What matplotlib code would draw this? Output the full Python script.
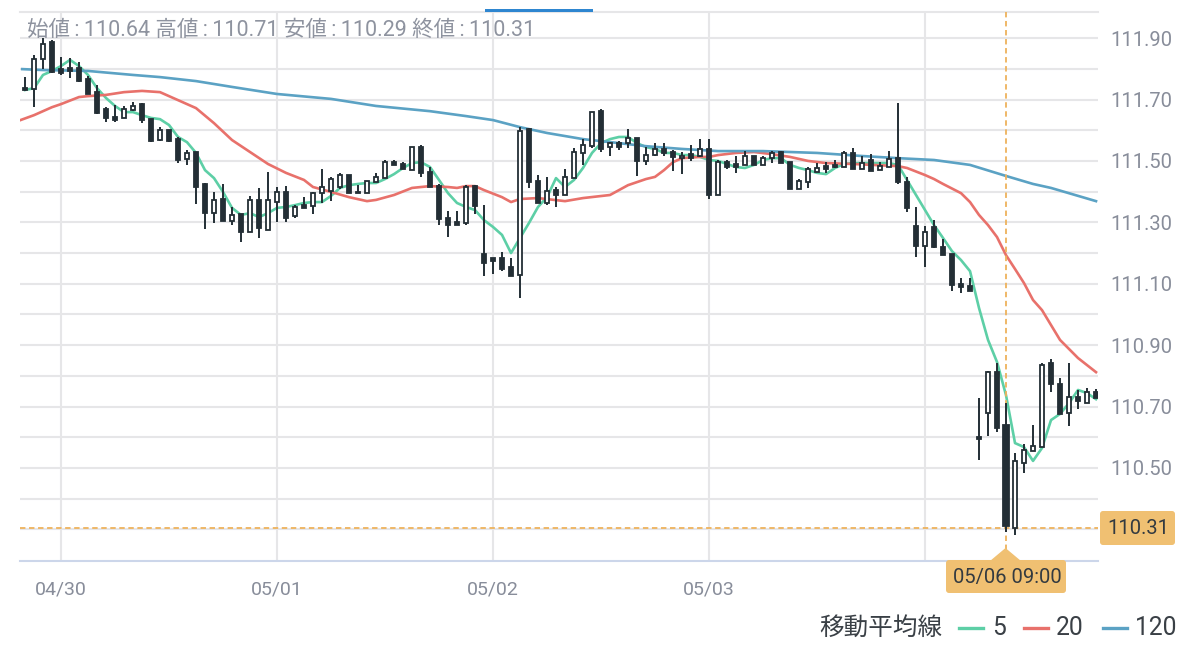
import matplotlib
matplotlib.use('Agg')
import matplotlib.pyplot as plt
from matplotlib.patches import FancyBboxPatch, Polygon, Rectangle
from matplotlib.transforms import Affine2D
from matplotlib.lines import Line2D
import numpy as np

plt.rcParams['font.family'] = ['Roboto', 'Noto Sans CJK JP', 'DejaVu Sans']

# ohlc, one row per hour
opens = [111.737, 111.734, 111.832, 111.887, 111.799, 111.802, 111.802, 111.767, 111.724, 111.669,
         111.643, 111.640, 111.666, 111.685, 111.636, 111.568, 111.601, 111.571, 111.506, 111.529,
         111.425, 111.330, 111.376, 111.304, 111.327, 111.268, 111.373, 111.275, 111.366, 111.399,
         111.320, 111.356, 111.353, 111.395, 111.402, 111.415, 111.454, 111.399, 111.395, 111.431,
         111.444, 111.496, 111.490, 111.470, 111.545, 111.464, 111.418, 111.314, 111.301, 111.298,
         111.418, 111.197, 111.184, 111.184, 111.154, 111.128, 111.604, 111.434, 111.363, 111.405,
         111.389, 111.444, 111.526, 111.548, 111.662, 111.545, 111.558, 111.558, 111.575, 111.500,
         111.519, 111.539, 111.529, 111.509, 111.522, 111.516, 111.539, 111.389, 111.496, 111.490,
         111.487, 111.516, 111.487, 111.509, 111.529, 111.496, 111.408, 111.431, 111.464, 111.483,
         111.487, 111.480, 111.526, 111.474, 111.503, 111.470, 111.480, 111.509, 111.431, 111.288,
         111.223, 111.285, 111.220, 111.197, 111.099, 111.092, 110.601, 110.679, 110.812, 110.640,
         110.304, 110.516, 110.555, 110.568, 110.842, 110.773, 110.679, 110.731, 110.711, 110.747]
highs = [111.773, 111.845, 111.900, 111.894, 111.838, 111.835, 111.822, 111.776, 111.747, 111.675,
         111.682, 111.679, 111.692, 111.689, 111.636, 111.610, 111.601, 111.578, 111.535, 111.529,
         111.428, 111.399, 111.425, 111.350, 111.327, 111.386, 111.412, 111.464, 111.415, 111.418,
         111.356, 111.382, 111.399, 111.474, 111.448, 111.461, 111.454, 111.421, 111.434, 111.461,
         111.503, 111.503, 111.496, 111.545, 111.552, 111.480, 111.425, 111.337, 111.337, 111.421,
         111.421, 111.356, 111.184, 111.203, 111.184, 111.610, 111.607, 111.454, 111.448, 111.415,
         111.474, 111.542, 111.571, 111.659, 111.669, 111.562, 111.565, 111.604, 111.575, 111.545,
         111.558, 111.558, 111.535, 111.529, 111.552, 111.571, 111.571, 111.503, 111.503, 111.516,
         111.532, 111.516, 111.516, 111.532, 111.532, 111.496, 111.441, 111.480, 111.493, 111.496,
         111.503, 111.532, 111.542, 111.516, 111.522, 111.496, 111.532, 111.689, 111.448, 111.350,
         111.288, 111.307, 111.246, 111.197, 111.119, 111.119, 110.728, 110.816, 110.842, 110.710,
         110.549, 110.578, 110.640, 110.842, 110.855, 110.793, 110.842, 110.754, 110.760, 110.757]
lows = [111.728, 111.675, 111.799, 111.786, 111.780, 111.770, 111.757, 111.718, 111.653, 111.627,
        111.627, 111.640, 111.662, 111.623, 111.561, 111.565, 111.561, 111.493, 111.487, 111.360,
        111.278, 111.298, 111.304, 111.291, 111.236, 111.268, 111.249, 111.275, 111.301, 111.301,
        111.314, 111.347, 111.327, 111.363, 111.369, 111.408, 111.395, 111.395, 111.395, 111.431,
        111.444, 111.487, 111.474, 111.470, 111.448, 111.415, 111.291, 111.252, 111.291, 111.291,
        111.327, 111.125, 111.132, 111.141, 111.125, 111.053, 111.412, 111.363, 111.356, 111.350,
        111.389, 111.444, 111.487, 111.542, 111.529, 111.516, 111.535, 111.542, 111.451, 111.487,
        111.516, 111.516, 111.467, 111.457, 111.500, 111.513, 111.376, 111.389, 111.474, 111.461,
        111.487, 111.487, 111.487, 111.493, 111.493, 111.408, 111.408, 111.412, 111.464, 111.461,
        111.477, 111.480, 111.474, 111.474, 111.467, 111.470, 111.480, 111.425, 111.333, 111.187,
        111.154, 111.216, 111.193, 111.076, 111.070, 111.076, 110.526, 110.604, 110.617, 110.290,
        110.281, 110.483, 110.555, 110.568, 110.747, 110.676, 110.637, 110.692, 110.711, 110.728]
closes = [111.731, 111.832, 111.881, 111.789, 111.786, 111.793, 111.760, 111.718, 111.656, 111.640,
          111.633, 111.669, 111.679, 111.633, 111.565, 111.601, 111.565, 111.503, 111.526, 111.415,
          111.330, 111.373, 111.304, 111.324, 111.268, 111.373, 111.281, 111.373, 111.399, 111.314,
          111.350, 111.347, 111.395, 111.415, 111.441, 111.454, 111.395, 111.395, 111.434, 111.448,
          111.496, 111.487, 111.474, 111.545, 111.461, 111.415, 111.311, 111.291, 111.291, 111.415,
          111.353, 111.167, 111.174, 111.148, 111.125, 111.597, 111.431, 111.363, 111.402, 111.389,
          111.448, 111.529, 111.552, 111.659, 111.539, 111.558, 111.545, 111.575, 111.500, 111.519,
          111.539, 111.526, 111.513, 111.516, 111.509, 111.539, 111.389, 111.496, 111.480, 111.480,
          111.516, 111.487, 111.509, 111.526, 111.493, 111.408, 111.434, 111.474, 111.477, 111.474,
          111.480, 111.526, 111.474, 111.493, 111.467, 111.483, 111.506, 111.431, 111.347, 111.223,
          111.268, 111.220, 111.193, 111.096, 111.089, 111.076, 110.594, 110.812, 110.630, 110.310,
          110.523, 110.558, 110.571, 110.835, 110.773, 110.676, 110.731, 110.718, 110.747, 110.728]

ma5 = [111.731, 111.737, 111.780, 111.793, 111.809, 111.829, 111.809, 111.780, 111.737, 111.705,
       111.679, 111.659, 111.659, 111.649, 111.640, 111.636, 111.617, 111.578, 111.561, 111.526,
       111.470, 111.444, 111.399, 111.347, 111.324, 111.330, 111.317, 111.330, 111.347, 111.350,
       111.356, 111.363, 111.366, 111.366, 111.386, 111.412, 111.421, 111.425, 111.428, 111.428,
       111.441, 111.457, 111.477, 111.493, 111.496, 111.480, 111.438, 111.395, 111.363, 111.350,
       111.340, 111.307, 111.285, 111.259, 111.200, 111.249, 111.298, 111.350, 111.382, 111.444,
       111.415, 111.438, 111.477, 111.526, 111.558, 111.571, 111.578, 111.578, 111.558, 111.545,
       111.539, 111.526, 111.526, 111.519, 111.519, 111.513, 111.503, 111.500, 111.490, 111.480,
       111.477, 111.487, 111.503, 111.509, 111.509, 111.487, 111.477, 111.470, 111.461, 111.457,
       111.477, 111.490, 111.493, 111.493, 111.493, 111.493, 111.493, 111.487, 111.438, 111.389,
       111.340, 111.291, 111.249, 111.206, 111.177, 111.141, 111.021, 110.917, 110.845, 110.737,
       110.581, 110.568, 110.523, 110.565, 110.656, 110.676, 110.711, 110.754, 110.744, 110.724]

ma20_x = [-0.5, 1, 3, 4, 6, 7, 9, 11, 13, 15, 17, 19, 21, 23, 25, 27, 29, 31, 32, 34, 36, 38, 39, 41, 43, 45,
          47, 48, 49, 50, 51, 53, 54, 55, 57, 60, 62, 65, 67, 69, 70, 71, 72, 73, 75, 76, 77, 79, 81, 83, 85,
          87, 89, 92, 97, 98, 100, 101, 102, 104, 105, 106, 107, 108, 109, 110, 111, 112, 113, 115, 117, 119]
ma20 = [111.633, 111.649, 111.675, 111.685, 111.708, 111.711, 111.715, 111.724, 111.728, 111.724, 111.698,
        111.672, 111.623, 111.568, 111.529, 111.490, 111.461, 111.438, 111.415, 111.399, 111.382, 111.369,
        111.373, 111.389, 111.412, 111.418, 111.415, 111.412, 111.418, 111.418, 111.405, 111.382, 111.366,
        111.376, 111.379, 111.369, 111.379, 111.389, 111.421, 111.441, 111.448, 111.470, 111.496, 111.509,
        111.513, 111.513, 111.519, 111.526, 111.529, 111.522, 111.513, 111.500, 111.493, 111.490, 111.483,
        111.477, 111.454, 111.441, 111.425, 111.395, 111.366, 111.324, 111.291, 111.252, 111.193, 111.148,
        111.102, 111.047, 111.014, 110.917, 110.858, 110.812]

ma120_x = [-0.3, 2, 7, 12, 15, 19, 23, 28, 34, 39, 45, 49, 52, 55, 58, 62, 66, 69, 73, 77, 82, 88, 93, 97,
           101, 105, 109, 112, 114, 119]
ma120 = [111.799, 111.796, 111.793, 111.780, 111.773, 111.760, 111.741, 111.718, 111.702, 111.679, 111.662,
         111.646, 111.633, 111.610, 111.591, 111.571, 111.558, 111.548, 111.539, 111.532, 111.532, 111.526,
         111.516, 111.509, 111.503, 111.487, 111.451, 111.425, 111.412, 111.369]

date_pos = [4, 28, 52, 76, 100]
date_labels = ['04/30', '05/01', '05/02', '05/03', '']
price_ticks = [110.3, 110.4, 110.5, 110.6, 110.7, 110.8, 110.9, 111.0, 111.1, 111.2, 111.3, 111.4, 111.5, 111.6,
               111.7, 111.8, 111.9]
price_labels = ['', '', '110.50', '', '110.70', '', '110.90', '', '111.10', '', '111.30', '', '111.50', '',
                '111.70', '', '111.90']

selected = 109
header = '始値\u2009:\u2009110.64 高値\u2009:\u2009110.71 安値\u2009:\u2009110.29 終値\u2009:\u2009110.31'

DARK = '#232e35'
GRID = '#e6e6e8'
GREEN = '#5dcfa6'
RED = '#e8716b'
BLUE = '#5ba2c4'
TAG = '#f0c072'
CROSS = '#eeb25c'
TEXT = '#888d9a'

fig = plt.figure(figsize=(12, 6.52), dpi=100, facecolor='white')
ax = fig.add_axes([20 / 1200, 1 - 561 / 652, 1078 / 1200, 549 / 652])
ax.set_xlim(-0.556, 119.22)
ax.set_ylim(110.197, 111.985)

# pixel coordinates measured from the top left corner, for the tags
px = Affine2D().scale(1, -1).translate(0, 652)

ax.set_yticks(price_ticks, price_labels)
ax.set_xticks(date_pos, date_labels)
ax.yaxis.tick_right()
ax.grid(True, color=GRID, lw=1.5)
ax.set_axisbelow(True)
ax.tick_params(axis='both', length=0, labelcolor=TEXT)
ax.tick_params(axis='y', labelsize=14.5, pad=9)
ax.tick_params(axis='x', labelsize=14, pad=14)
for s in ['left', 'right']:
    ax.spines[s].set_visible(False)
ax.spines['top'].set_color(GRID)
ax.spines['top'].set_linewidth(1.5)
ax.spines['bottom'].set_color('#ccd6ea')
ax.spines['bottom'].set_linewidth(1.5)

ax.plot(range(len(ma5)), ma5, color=GREEN, lw=1.9, zorder=3)
ax.plot(ma20_x, ma20, color=RED, lw=1.9, zorder=3)
ax.plot(ma120_x, ma120, color=BLUE, lw=1.9, zorder=3)

# crosshair sits under the candles
ax.axhline(110.305, color=CROSS, lw=1.3, ls=(0, (3, 2)), zorder=3.5)
ax.axvline(selected, ymin=(110.305 - 110.197) / (111.985 - 110.197) - 0.04, color=CROSS, lw=1.3, ls=(0, (3, 2)), zorder=3.5)

for i in range(len(opens)):
    up = closes[i] >= opens[i]
    w = 0.7 if i == selected else 0.52
    ax.vlines(i, lows[i], highs[i], color=DARK, lw=1.4, zorder=4)
    bottom = min(opens[i], closes[i])
    height = max(abs(closes[i] - opens[i]), 0.004)
    ax.bar(i, height, width=w, bottom=bottom, color='white' if up else DARK, edgecolor=DARK, lw=1.3, zorder=5)

fig.add_artist(Rectangle((485, 9), 108, 3, transform=px, color='#2e86d0', lw=0))

fig.text(27, 30, header, transform=px, fontsize=15.5, color=TEXT, va='center', ha='left', alpha=0.95)

# value and time tags
fig.add_artist(FancyBboxPatch((1102, 513), 71, 30, boxstyle='round,pad=2,rounding_size=3', transform=px,
                              facecolor=TAG, edgecolor='none', zorder=7))
fig.text(1138, 529, '110.31', transform=px, fontsize=14.5, color='#333a40', va='center', ha='center', zorder=8)
fig.add_artist(Polygon([(990, 561), (1005.5, 548), (1021, 561)], transform=px, facecolor=TAG, edgecolor='none', zorder=7))
fig.add_artist(FancyBboxPatch((948, 562), 116, 29, boxstyle='round,pad=2,rounding_size=3', transform=px,
                              facecolor=TAG, edgecolor='none', zorder=7))
fig.text(1007, 577, '05/06 09:00', transform=px, fontsize=14.5, color='#333a40', va='center', ha='center', zorder=8)

# legend at the bottom right
fig.text(819, 628, '移動平均線', transform=px, fontsize=17.7, color='#3a4046', va='center', ha='left')
for x0, x1, col, tx, lab in [(959, 983, GREEN, 992, '5'), (1024, 1048, RED, 1056, '20'), (1103, 1127, BLUE, 1135, '120')]:
    fig.add_artist(Line2D([x0, x1], [628, 628], transform=px, color=col, lw=2.4))
    fig.text(tx, 628, lab, transform=px, fontsize=17.7, color='#3a4046', va='center', ha='left')

fig.savefig('out.png', dpi=100)
